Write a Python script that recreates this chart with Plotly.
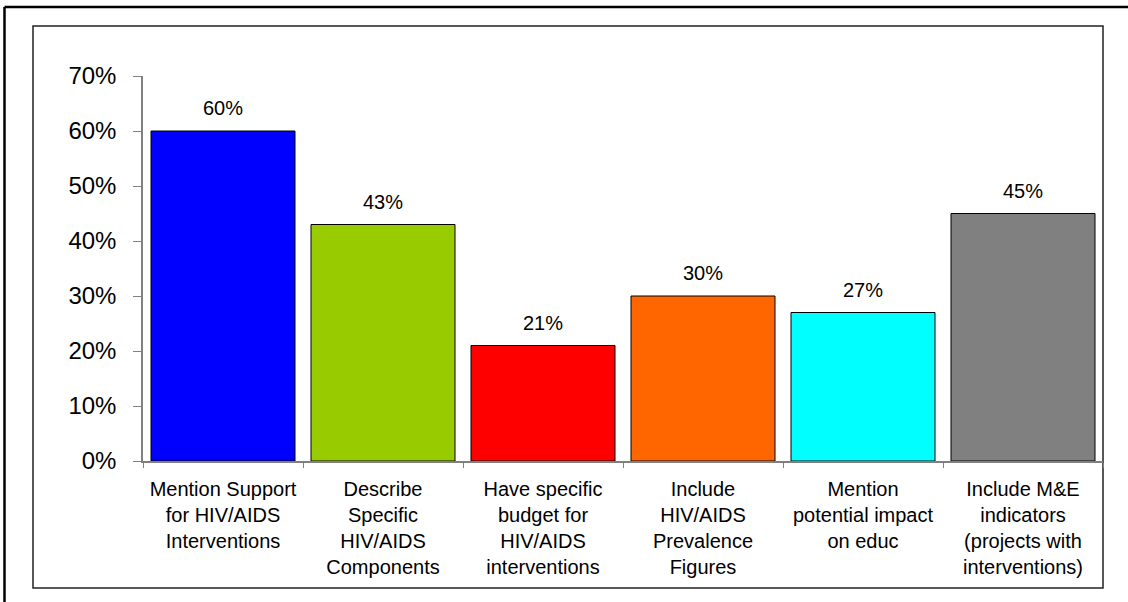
import plotly.graph_objects as go

# Share of documents addressing each HIV/AIDS item
categories = [
    "Mention Support<br>for HIV/AIDS<br>Interventions",
    "Describe<br>Specific<br>HIV/AIDS<br>Components",
    "Have specific<br>budget for<br>HIV/AIDS<br>interventions",
    "Include<br>HIV/AIDS<br>Prevalence<br>Figures",
    "Mention<br>potential impact<br>on educ",
    "Include M&E<br>indicators<br>(projects with<br>interventions)",
]
values = [0.60, 0.43, 0.21, 0.30, 0.27, 0.45]
bar_colors = ["#0000FF", "#99CC00", "#FF0000", "#FF6600", "#00FFFF", "#808080"]
y_ticks = [0.0, 0.1, 0.2, 0.3, 0.4, 0.5, 0.6, 0.7]

FONT = "Liberation Sans, Arial, sans-serif"
W, H = 1128, 602
L, R, T, B = 143, 25, 76, 141
PW, PH = W - L - R, H - T - B


def px_to_paper(x, y):
    """Convert canvas pixels to paper coordinates of the plot area."""
    return (x - L) / PW, (H - B - y) / PH


fig = go.Figure(
    go.Bar(
        x=categories,
        y=values,
        marker=dict(color=bar_colors, line=dict(color="black", width=1)),
        hoverinfo="skip",
    )
)

# Value labels above each bar
for cat, v in zip(categories, values):
    fig.add_annotation(
        x=cat, y=v, text=f"{round(v * 100)}%", showarrow=False,
        yanchor="bottom", yshift=10,
        font=dict(family=FONT, size=20, color="black"),
    )

# Inner chart frame
x0, y0 = px_to_paper(33, 588)
x1, y1 = px_to_paper(1103, 26)
fig.add_shape(type="rect", xref="paper", yref="paper", x0=x0, y0=y0, x1=x1, y1=y1,
              line=dict(color="#222222", width=1.5), layer="below")

# Outer page frame: only its top and left edges fall on the canvas
ox0, oy_bot = px_to_paper(4.5, 640)
ox_right, oy_top = px_to_paper(1160, 7)
fig.add_shape(type="line", xref="paper", yref="paper", x0=ox0, y0=oy_top, x1=ox_right, y1=oy_top,
              line=dict(color="black", width=2.5), layer="below")
fig.add_shape(type="line", xref="paper", yref="paper", x0=ox0, y0=oy_top, x1=ox0, y1=oy_bot,
              line=dict(color="black", width=2.5), layer="below")

fig.update_layout(
    width=W, height=H,
    margin=dict(l=L, r=R, t=T, b=B, pad=0),
    paper_bgcolor="white", plot_bgcolor="white",
    bargap=0.1,
    showlegend=False,
    font=dict(family=FONT, color="black"),
)
fig.update_xaxes(
    showline=True, linecolor="#808080", linewidth=1.5,
    ticks="outside", tickson="boundaries", ticklen=5, tickcolor="#808080",
    tickfont=dict(family=FONT, size=20, color="black"),
    showgrid=False, zeroline=False, ticklabelstandoff=9,
)
fig.update_yaxes(
    range=[0, 0.7], tickvals=y_ticks, tickformat=".0%",
    showline=True, linecolor="#808080", linewidth=1.5,
    ticks="outside", ticklen=8, tickcolor="#808080",
    tickfont=dict(family=FONT, size=24, color="black"),
    showgrid=False, zeroline=False, ticklabelstandoff=12,
)

fig.write_html("out.html")
